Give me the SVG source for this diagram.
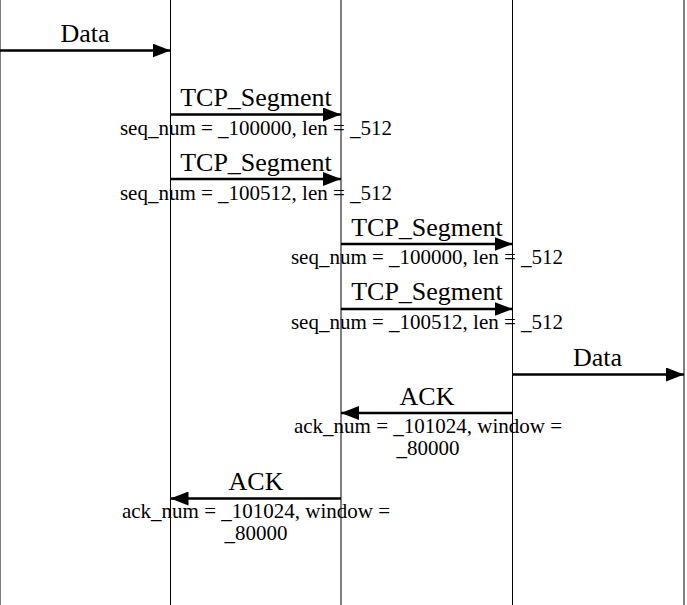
<svg xmlns="http://www.w3.org/2000/svg" width="687" height="605" viewBox="0 0 687 605">
<style>
.life{stroke:#000;stroke-width:1;fill:none}
.msg{stroke:#000;stroke-width:2.5;fill:none;marker-end:url(#ah)}
text{fill:#000;text-anchor:middle}
.big{font-size:26px}
.small{font-size:21px}
</style>
<defs>
<marker id="ah" markerUnits="userSpaceOnUse" markerWidth="18" markerHeight="14" refX="18" refY="7" orient="auto">
<path d="M0,0 L18,7 L0,14 z" fill="#000"/>
</marker>
</defs>
<rect width="687" height="605" fill="#fff"/>
<g id="lifeline-0"><line class="life" x1="0" y1="0" x2="0" y2="605"/></g>
<g id="lifeline-1"><line class="life" x1="170.5" y1="0" x2="170.5" y2="605"/></g>
<g id="lifeline-2"><line class="life" x1="341" y1="0" x2="341" y2="605"/></g>
<g id="lifeline-3"><line class="life" x1="512.5" y1="0" x2="512.5" y2="605"/></g>
<g id="lifeline-4"><line class="life" x1="684" y1="0" x2="684" y2="605"/></g>
<g id="connectors" font-family="Liberation Serif, Times New Roman, serif">
<line class="msg" x1="0" y1="50.5" x2="170.5" y2="50.5"/>
<text class="big" x="85" y="42">Data</text>

<line class="msg" x1="170.5" y1="114.5" x2="341" y2="114.5"/>
<text class="big" x="256" y="106">TCP_Segment</text>
<text class="small" x="256" y="135">seq_num = _100000, len = _512</text>

<line class="msg" x1="170.5" y1="179" x2="341" y2="179"/>
<text class="big" x="256" y="170.5">TCP_Segment</text>
<text class="small" x="256" y="199.5">seq_num = _100512, len = _512</text>

<line class="msg" x1="341" y1="244" x2="512.5" y2="244"/>
<text class="big" x="427" y="235.5">TCP_Segment</text>
<text class="small" x="427" y="264">seq_num = _100000, len = _512</text>

<line class="msg" x1="341" y1="309" x2="512.5" y2="309"/>
<text class="big" x="427" y="300">TCP_Segment</text>
<text class="small" x="427" y="329">seq_num = _100512, len = _512</text>

<line class="msg" x1="512.5" y1="374.5" x2="684" y2="374.5"/>
<text class="big" x="597.5" y="365.5">Data</text>

<line class="msg" x1="512.5" y1="413" x2="341" y2="413"/>
<text class="big" x="427" y="404.5">ACK</text>
<text class="small" x="428" y="432.5">ack_num = _101024, window =</text>
<text class="small" x="428" y="454.5">_80000</text>

<line class="msg" x1="341" y1="498.5" x2="170.5" y2="498.5"/>
<text class="big" x="256" y="490">ACK</text>
<text class="small" x="256" y="517.5">ack_num = _101024, window =</text>
<text class="small" x="256" y="539.5">_80000</text>
</g>
</svg>
